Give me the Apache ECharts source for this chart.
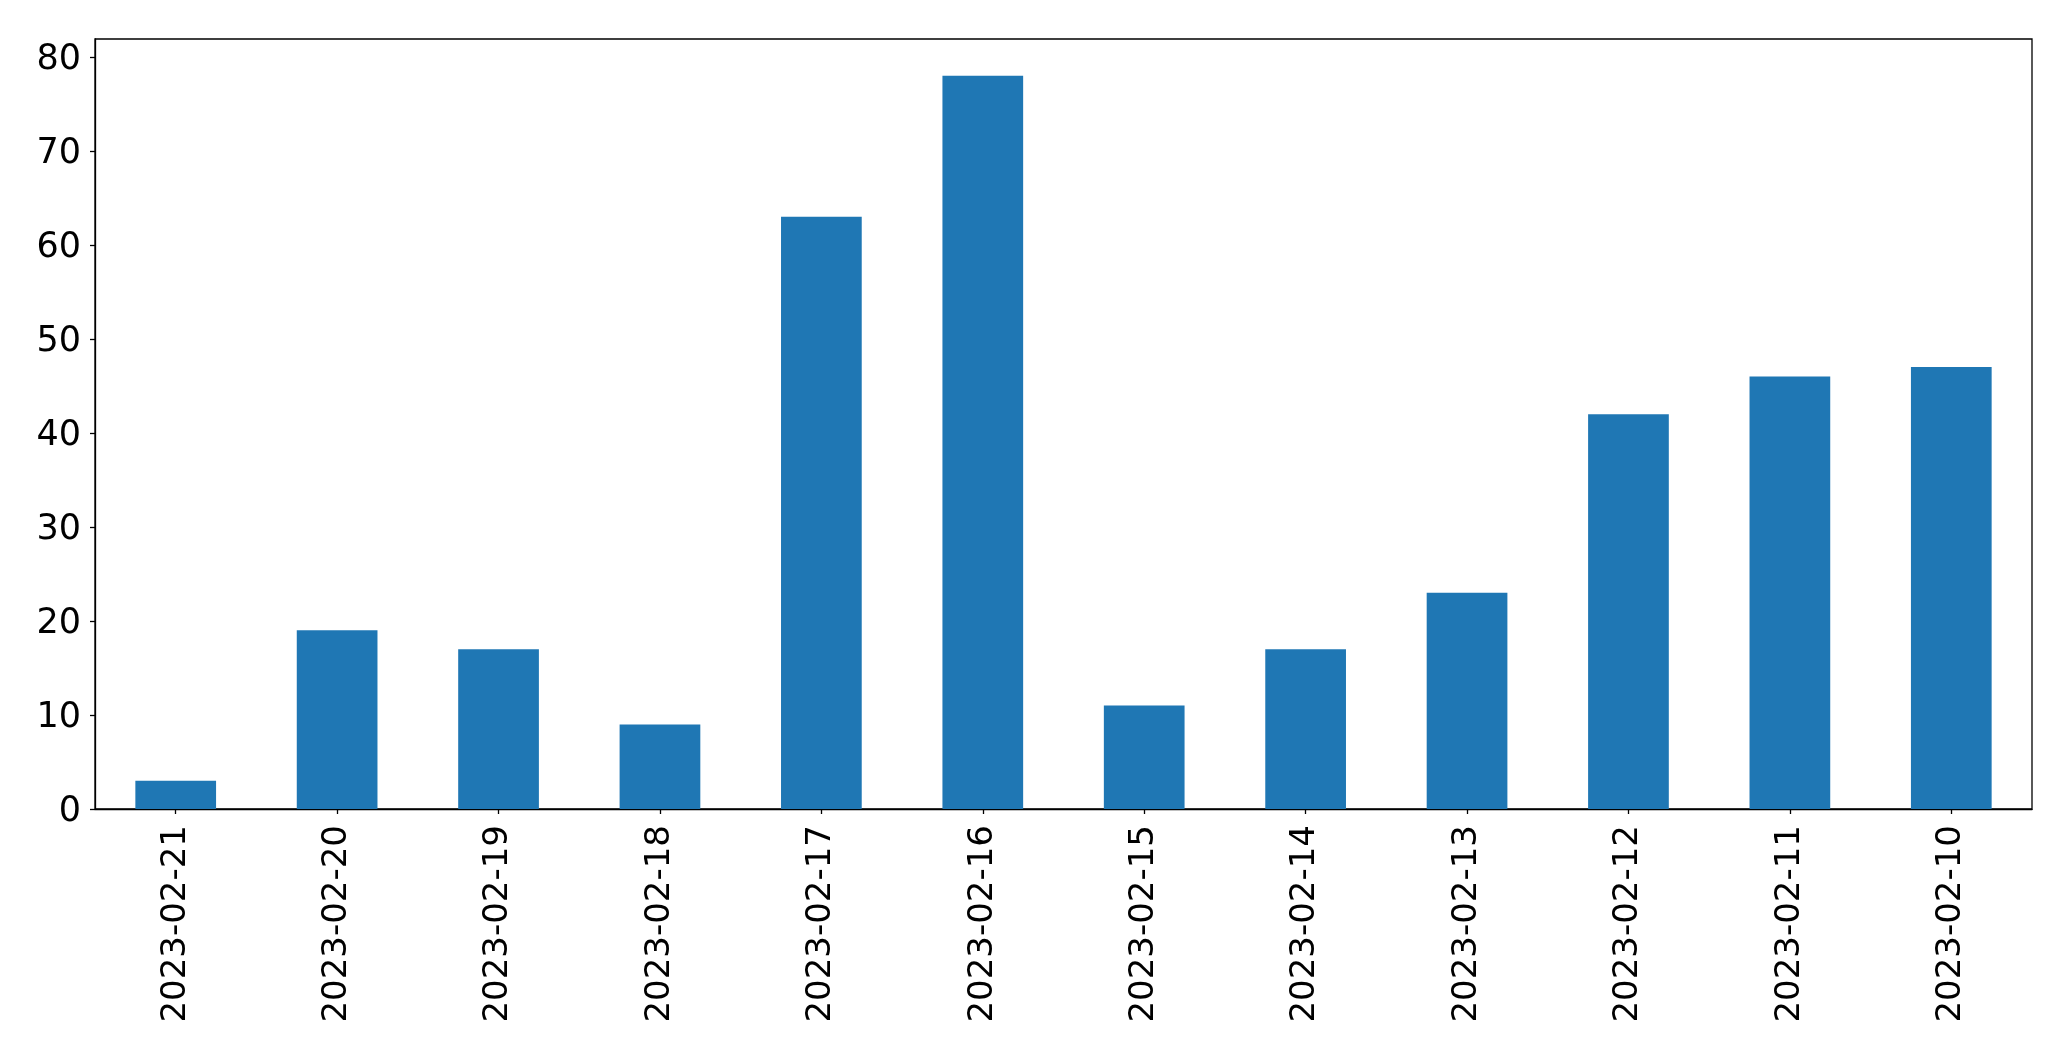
<!DOCTYPE html>
<html>
<head>
<meta charset="utf-8">
<script src="https://cdn.jsdelivr.net/npm/echarts@6/dist/echarts.min.js"></script>
<style>
html,body{margin:0;padding:0;background:#fff;}
#chart{width:2071px;height:1061px;}
</style>
</head>
<body>
<div id="chart"></div>
<script>
const categories = ["2023-02-21","2023-02-20","2023-02-19","2023-02-18","2023-02-17","2023-02-16","2023-02-15","2023-02-14","2023-02-13","2023-02-12","2023-02-11","2023-02-10"];
const values = [3, 19, 17, 9, 63, 78, 11, 17, 23, 42, 46, 47];
const yTicks = [0, 10, 20, 30, 40, 50, 60, 70, 80];
const yMax = 81.9;

const chart = echarts.init(document.getElementById('chart'), null, {renderer: 'canvas'});
const font = 'DejaVu Sans';
chart.setOption({
  animation: false,
  backgroundColor: '#ffffff',
  grid: {
    left: 95, right: 39, top: 39, bottom: 252,
    show: true, borderColor: '#000000', borderWidth: 1.3, backgroundColor: 'transparent'
  },
  xAxis: {
    type: 'category',
    data: categories,
    boundaryGap: true,
    axisLine: {show: true, lineStyle: {color: '#000', width: 1.3}},
    axisTick: {show: true, alignWithLabel: true, length: 5, inside: false, lineStyle: {color: '#000', width: 1.3}},
    axisLabel: {rotate: 90, margin: 16, fontSize: 34, color: '#000', fontFamily: font, interval: 0},
    splitLine: {show: false}
  },
  yAxis: {
    type: 'value',
    min: 0, max: yMax,
    axisLine: {show: true, lineStyle: {color: '#000', width: 1.3}},
    axisTick: {show: true, length: 5, lineStyle: {color: '#000', width: 1.3}, customValues: yTicks},
    axisLabel: {
      margin: 14, fontSize: 35, color: '#000', fontFamily: font, customValues: yTicks,
      formatter: function (v) { return '{a|' + v + '}'; },
      rich: {a: {fontSize: 35, fontFamily: font, color: '#000', padding: [6, 0, 0, 0]}}
    },
    splitLine: {show: false}
  },
  series: [{
    type: 'bar',
    data: values,
    barWidth: '50%',
    itemStyle: {color: '#1f77b4'}
  }]
});
</script>
</body>
</html>
